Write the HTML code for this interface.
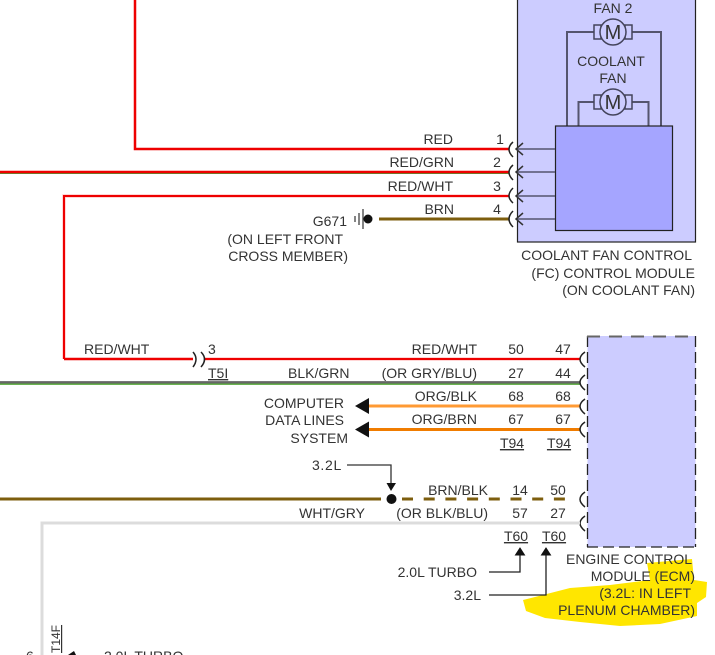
<!DOCTYPE html>
<html>
<head>
<meta charset="utf-8">
<style>
html,body{margin:0;padding:0;background:#fff;width:715px;height:655px;overflow:hidden}
svg{display:block}
text{font-family:"Liberation Sans",sans-serif;font-size:14px;fill:#333}
.e{text-anchor:end}.m{text-anchor:middle}
.c{fill:none;stroke:#222;stroke-width:1.5}
.g{fill:none;stroke:#55556e;stroke-width:2}
</style>
</head>
<body>
<svg width="715" height="655" viewBox="0 0 715 655" xmlns="http://www.w3.org/2000/svg">
<!-- highlight -->
<path d="M647 563L692 559L694 580L707 582L706 597L697 603L697 616L660 624L620 626L580 622L545 618L526 611L523 600L535 597L570 588L610 585L650 580Z" fill="#ffe600"/>
<!-- coolant module -->
<rect x="517.5" y="-2" width="178" height="244" fill="#ccccff" stroke="#222" stroke-width="1.2"/>
<path class="g" d="M567 126V32H594M632 32H661V126M578.500 126V102H594M632 102H648.500V126"/>
<g fill="#ccccff" stroke="#44445c" stroke-width="1.5">
<rect x="594" y="25" width="7" height="14"/><rect x="625" y="25" width="7" height="14"/>
<circle cx="613" cy="32" r="13"/>
<rect x="594" y="95" width="7" height="14"/><rect x="625" y="95" width="7" height="14"/>
<circle cx="613" cy="102" r="13"/>
</g>
<text x="613" y="39" class="m" style="font-size:20px">M</text>
<text x="613" y="109" class="m" style="font-size:20px">M</text>
<rect x="555.500" y="126" width="117" height="104.500" fill="#a5a5ff" stroke="#222" stroke-width="1.2"/>
<text x="613" y="13" class="m">FAN 2</text>
<text x="611" y="66" class="m">COOLANT</text>
<text x="613" y="83" class="m">FAN</text>
<!-- arrows into connector -->
<path d="M555 149H516M555 172H516M555 196H516M555 219H516" stroke="#55556e" stroke-width="1.500" fill="none"/>
<path class="c" d="M523 143L516 149L523 155M523 166L516 172L523 178M523 190L516 196L523 202M523 213L516 219L523 225" style="stroke:#333"/>
<!-- wires top -->
<path d="M135 0V149H509" fill="none" stroke="#ee0000" stroke-width="2.500"/>
<path d="M0 172.500H509" stroke="#4a9c3a" stroke-width="3"/>
<path d="M0 172H509" stroke="#ee0000" stroke-width="2.400"/>
<path d="M64 359V196H509" fill="none" stroke="#ffc8c8" stroke-width="3.400"/>
<path d="M64 359V196H509" fill="none" stroke="#ee0000" stroke-width="2"/>
<path d="M379 219H509" stroke="#7d5e0e" stroke-width="3"/>
<path class="c" d="M513 142Q505 149 513 157M513 165Q505 172 513 180M513 188Q505 196 513 203M513 211Q505 219 513 227"/>
<text x="453" y="144" class="e">RED</text>
<text x="454" y="167" class="e">RED/GRN</text>
<text x="453" y="191" class="e">RED/WHT</text>
<text x="454" y="214" class="e">BRN</text>
<text x="500" y="144" class="m">1</text>
<text x="497" y="167" class="m">2</text>
<text x="497" y="191" class="m">3</text>
<text x="497" y="214" class="m">4</text>
<!-- ground -->
<path d="M355 216V222M359 213V225M363 209V229" stroke="#333" stroke-width="1.200"/>
<circle cx="368" cy="219" r="4.500" fill="#111"/>
<text x="347" y="226" class="e">G671</text>
<text x="343" y="244" class="e">(ON LEFT FRONT</text>
<text x="348" y="261" class="e">CROSS MEMBER)</text>
<text x="692" y="260" class="e">COOLANT FAN CONTROL</text>
<text x="695" y="278" class="e">(FC) CONTROL MODULE</text>
<text x="695" y="295" class="e">(ON COOLANT FAN)</text>
<!-- ECM -->
<rect x="587.500" y="336" width="108" height="211" fill="#ccccff"/>
<path d="M587.500 336V547M695.500 336V547" stroke="#222" stroke-width="1.300" stroke-dasharray="11 5" fill="none"/>
<path d="M587 547H696" stroke="#222" stroke-width="1.300" stroke-dasharray="11 5" fill="none"/>
<path d="M587 336.500H696" stroke="#666" stroke-width="2" stroke-dasharray="13 9" fill="none"/>
<!-- mid wires -->
<path d="M64 359H193" stroke="#ee0000" stroke-width="2.500" fill="none"/>
<path d="M205 359H580" stroke="#ffc8c8" stroke-width="3.400"/>
<path d="M205 359H580" stroke="#ee0000" stroke-width="2"/>
<path d="M0 384H580" stroke="#56a83a" stroke-width="1.800"/>
<path d="M0 382.300H580" stroke="#666" stroke-width="2.400"/>
<path d="M366 406H580" stroke="#ff9a33" stroke-width="3"/>
<path d="M366 429.500H580" stroke="#f07c00" stroke-width="3"/>
<path d="M355 406L369 398V414Z M355 429.500L369 421.500V437.500Z" fill="#111"/>
<path class="c" d="M193 352Q199 359 193 367M201 352Q208 359 201 367"/>
<path class="c" d="M585 352Q575 359 585 367M585 375Q575 382 585 390M585 399Q575 406 585 414M585 422Q575 429 585 437"/>
<path class="c" d="M585 492Q575 499 585 507M585 516Q575 523 585 531"/>
<text x="84" y="354">RED/WHT</text>
<text x="208" y="354">3</text>
<text x="208" y="378" style="text-decoration:underline">T5I</text>
<text x="288" y="378">BLK/GRN</text>
<text x="477" y="354" class="e">RED/WHT</text>
<text x="477" y="378" class="e">(OR GRY/BLU)</text>
<text x="477" y="401" class="e">ORG/BLK</text>
<text x="477" y="424" class="e">ORG/BRN</text>
<text x="516" y="354" class="m">50</text><text x="563" y="354" class="m">47</text>
<text x="516" y="378" class="m">27</text><text x="563" y="378" class="m">44</text>
<text x="516" y="401" class="m">68</text><text x="563" y="401" class="m">68</text>
<text x="516" y="424" class="m">67</text><text x="563" y="424" class="m">67</text>
<text x="512" y="448" class="m" style="text-decoration:underline">T94</text>
<text x="559" y="448" class="m" style="text-decoration:underline">T94</text>
<text x="344" y="408" class="e">COMPUTER</text>
<text x="344" y="425" class="e">DATA LINES</text>
<text x="348" y="443" class="e">SYSTEM</text>
<!-- lower -->
<text x="342" y="470" class="e" style="letter-spacing:.7px">3.2L</text>
<path d="M347 465H391V485" fill="none" stroke="#333" stroke-width="1.300"/>
<path d="M386.500 483H396L391 491Z" fill="#111"/>
<path d="M0 499H381" stroke="#7d5e0e" stroke-width="3"/>
<path d="M402 499H575" stroke="#7d5e0e" stroke-width="3" stroke-dasharray="11 10.700"/>
<circle cx="391.500" cy="499" r="5" fill="#111"/>
<path d="M42 655V523H580" fill="none" stroke="#dcdcdc" stroke-width="3"/>
<text x="488" y="495" class="e">BRN/BLK</text>
<text x="365" y="518" class="e">WHT/GRY</text>
<text x="488" y="518" class="e">(OR BLK/BLU)</text>
<text x="520" y="495" class="m">14</text><text x="558" y="495" class="m">50</text>
<text x="520" y="518" class="m">57</text><text x="558" y="518" class="m">27</text>
<text x="516" y="541" class="m" style="text-decoration:underline">T60</text>
<text x="554" y="541" class="m" style="text-decoration:underline">T60</text>
<path d="M489 572H520V552M489 595H546V552" fill="none" stroke="#222" stroke-width="1.300"/>
<path d="M520 548L524.500 555H515.500Z M546 548L550.500 555H541.500Z" fill="#111" stroke="#111"/>
<text x="477" y="577" class="e">2.0L TURBO</text>
<text x="481" y="600" class="e">3.2L</text>
<text x="692" y="564" class="e">ENGINE CONTROL</text>
<text x="695" y="581" class="e">MODULE (ECM)</text>
<text x="691" y="598" class="e">(3.2L: IN LEFT</text>
<text x="695" y="615" class="e">PLENUM CHAMBER)</text>
<!-- bottom -->
<text x="0" y="0" transform="translate(60,653) rotate(-90)" style="text-decoration:underline;font-size:12px">T14F</text>
<path d="M68 655L74 651L76 655Z" fill="#111"/>
<text x="104" y="661">2.0L TURBO</text>
<text x="26" y="661">6</text>
</svg>
</body>
</html>
